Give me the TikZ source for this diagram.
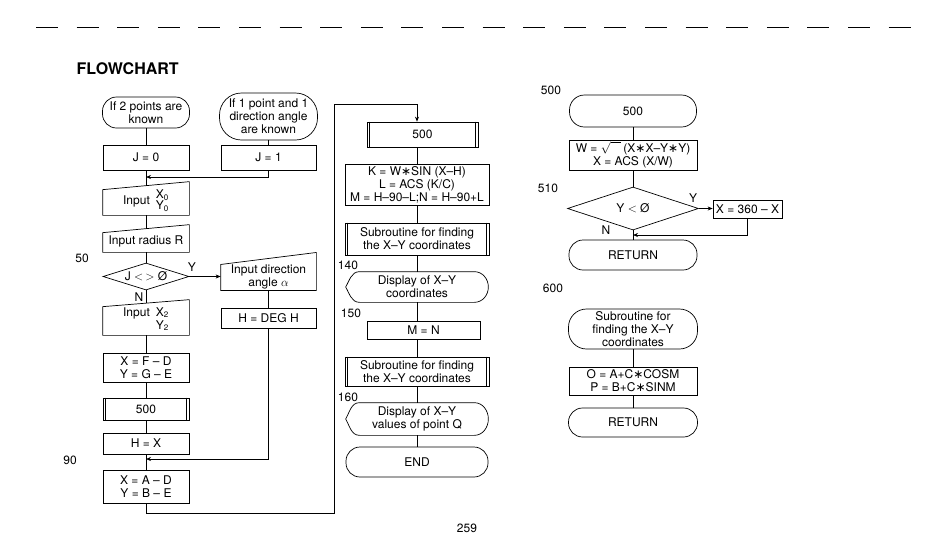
\documentclass[tikz,border=0pt]{standalone}
\usepackage{fontspec}
\setmainfont{TeX Gyre Heros}
\newfontfamily\symfont{DejaVu Sans}
\usetikzlibrary{shapes.geometric,arrows.meta}

\newcommand{\mulsign}{{\symfont ∗}}
% slanted top: #2 and #3 shift the left and right top corners
\newcommand{\manualshape}[3]{%
    \draw (#1.south west) -- ([yshift=#2]#1.north west)
        -- ([yshift=#3]#1.north east) -- (#1.south east) -- cycle;}
\newcommand{\displayshape}[1]{%
    \draw ([xshift=14pt]#1.north west) to[out=180,in=60] (#1.west)
        to[out=-60,in=180] ([xshift=14pt]#1.south west)
        -- ([xshift=-14pt]#1.south east) to[out=0,in=-90] (#1.east)
        to[out=90,in=0] ([xshift=-14pt]#1.north east) -- cycle;}

\begin{document}
\begin{tikzpicture}[
    x=1pt, y=1pt,
    line width=0.7pt,
    font=\fontsize{12}{13}\selectfont,
    arr/.style={-{Stealth[length=5pt,width=4pt]}},
    box/.style={draw, rectangle, inner sep=1pt, align=center,
                minimum width=86pt, minimum height=25pt},
    term/.style={box, rounded corners=14pt},
    predef/.style={box, append after command={
        ([xshift=3pt]\tikzlastnode.north west) edge ([xshift=3pt]\tikzlastnode.south west)
        ([xshift=-3pt]\tikzlastnode.north east) edge ([xshift=-3pt]\tikzlastnode.south east)}},
    manual/.style={rectangle, inner sep=1pt, align=center, minimum width=86pt},
    dispnode/.style={rectangle, inner sep=1pt, align=center,
                     minimum width=142pt, minimum height=30pt},
    decision/.style={draw, diamond, inner sep=0pt},
    numlabel/.style={inner sep=0pt},
]
\useasboundingbox (0,0) rectangle (946,-542);

\foreach \i in {0,...,21}
    \draw[line width=0.9pt] (36+40.6*\i,-27) -- ++(22,0);

\node[font=\fontsize{16}{18}\selectfont\bfseries, anchor=west] (title) at (73,-69) {FLOWCHART};
\node (page) at (467,-528) {259};

\node[term, minimum width=87pt, minimum height=31pt] (start2) at (146,-112.5)
      {If 2 points are\\known};
\node[term, rounded corners=22pt, minimum width=98pt, minimum height=47pt] (start1)
      at (268.5,-116.5) {If 1 point and 1\\direction angle\\are known};
\node[box] (jzero) at (146,-157.5) {J = 0};
\node[box, minimum width=95pt] (jone) at (268.5,-157.5) {J = 1};
\coordinate (merge1) at (146,-177);
\node[manual, minimum height=27pt] (inxy0) at (146,-201.5)
      {Input\enspace\begin{tabular}{@{}l@{}}X\textsubscript{0}\\[-2pt]Y\textsubscript{0}\end{tabular}};
\node[manual, minimum height=22pt] (inrad) at (146,-241) {Input radius R};
\node[numlabel] (l50) at (82,-258) {50};
\node[decision, minimum width=86pt, minimum height=27pt, aspect=3.2] (jtest)
      at (146,-276.5) {J $<\,>$ Ø};
\node[numlabel] (jyes) at (192,-267) {Y};
\node[numlabel] (jno) at (139,-297) {N};
\node[manual, minimum width=95pt, minimum height=26pt] (indir) at (268.5,-277)
      {Input direction\\angle $\alpha$};
\node[manual, minimum height=30pt] (inxy2) at (146,-320)
      {Input\enspace\begin{tabular}[t]{@{}l@{}}X\textsubscript{2}\\Y\textsubscript{2}\end{tabular}};
\node[box, minimum width=95pt, minimum height=20pt] (hdeg) at (268.5,-318) {H = DEG H};
\node[box, minimum height=29pt] (calcfd) at (146,-367.5) {X = F -- D\\Y = G -- E};
\node[predef, minimum height=22pt] (subfive) at (146,-409) {500};
\node[box, minimum height=21pt] (hx) at (146,-443.5) {H = X};
\node[numlabel] (l90) at (70,-460) {90};
\coordinate (merge2) at (146,-459);
\node[box, minimum height=33pt] (calcad) at (146,-486.5) {X = A -- D\\Y = B -- E};
\coordinate (loopa) at (334,-513);
\coordinate (loopb) at (334,-104);

\manualshape{inxy0}{-2pt}{6pt}
\manualshape{inrad}{-3pt}{5pt}
\manualshape{indir}{-1pt}{11pt}
\manualshape{inxy2}{-2pt}{5pt}

\node[predef, minimum width=111pt, minimum height=25pt] (subfiveb) at (422.5,-134.5) {500};
\node[box, minimum width=144pt, minimum height=41pt] (kwsin) at (417,-184.5)
      {K = W\mulsign SIN (X--H)\\L = ACS (K/C)\\M = H--90--L;N = H--90+L};
\node[predef, minimum width=144pt, minimum height=32pt] (subxya) at (417,-239)
      {Subroutine for finding\\the X--Y coordinates};
\node[numlabel] (l140) at (348,-265) {140};
\node[dispnode] (dispa) at (417,-287) {Display of X--Y\\coordinates};
\node[numlabel] (l150) at (351,-313) {150};
\node[box, minimum width=113pt, minimum height=18pt] (mn) at (423.5,-330) {M = N};
\node[predef, minimum width=144pt, minimum height=29pt] (subxyb) at (417,-371.5)
      {Subroutine for finding\\the X--Y coordinates};
\node[numlabel] (l160) at (348,-397) {160};
\node[dispnode, minimum height=32pt] (dispb) at (417,-419) {Display of X--Y\\values of point Q};
\node[term, minimum width=142pt, minimum height=30pt] (stop) at (417,-462) {END};

\displayshape{dispa}
\displayshape{dispb}

\node[numlabel] (l500) at (551,-90) {500};
\node[term, rounded corners=15pt, minimum width=127pt, minimum height=32pt] (sfive)
      at (633,-111) {500};
\node[box, minimum width=128pt, minimum height=30pt] (wcalc) at (633,-155)
      {W = $\sqrt{\phantom{X}}$\,(X\mulsign X--Y\mulsign Y)\\X = ACS (X/W)};
\node[numlabel] (l510) at (548,-188) {510};
\node[decision, minimum width=131pt, minimum height=43pt, aspect=3] (ytest)
      at (633,-208.5) {Y $<$ Ø};
\node[numlabel] (yyes) at (693,-198) {Y};
\node[numlabel] (yno) at (606,-230) {N};
\node[box, minimum width=69pt, minimum height=18pt, inner sep=0pt] (xflip)
      at (747.5,-209) {X = 360 -- X};
\coordinate (merge3) at (633,-235);
\node[term, minimum width=128pt, minimum height=30pt] (reta) at (633,-255) {RETURN};
\node[numlabel] (l600) at (553,-288) {600};
\node[term, rounded corners=18pt, minimum width=129pt, minimum height=40pt] (ssix)
      at (633,-329) {Subroutine for\\finding the X--Y\\coordinates};
\node[box, minimum width=128pt, minimum height=28pt] (ocalc) at (633,-381)
      {O = A+C\mulsign COSM\\P = B+C\mulsign SINM};
\node[term, minimum width=129pt, minimum height=29pt] (retb) at (633,-422.5) {RETURN};

\draw (start2) -- (jzero);
\draw (start1) -- (jone);
\draw (jzero) -- ([yshift=2pt]inxy0.north);
\draw[arr] (jone.south) |- (merge1);
\draw (inxy0.south) -- ([yshift=1pt]inrad.north);
\draw (inrad.south) -- (jtest.north);
\draw[arr] (jtest.east) -- (jtest.east -| indir.west);
\draw (jtest.south) -- ([yshift=1.5pt]inxy2.north);
\draw (indir.south) -- (hdeg.north);
\draw (inxy2.south) -- (calcfd.north);
\draw (calcfd) -- (subfive);
\draw (subfive) -- (hx);
\draw (hx) -- (calcad);
\draw[arr] (hdeg.south) |- (merge2);
\draw[arr] (calcad.south) |- (loopa) -- (loopb) -| (subfiveb.north -| kwsin.north);

\draw (subfiveb.south -| kwsin.north) -- (kwsin.north);
\draw (kwsin) -- (subxya);
\draw (subxya) -- (dispa);
\draw (dispa.south) -- (dispa.south |- mn.north);
\draw (mn.south -| subxyb.north) -- (subxyb.north);
\draw (subxyb) -- (dispb);
\draw (dispb) -- (stop);

\draw (sfive) -- (wcalc);
\draw (wcalc) -- (ytest);
\draw[arr] (ytest.east) -- (ytest.east -| xflip.west);
\draw[arr] (xflip.south) |- (merge3);
\draw (ytest.south) -- (reta.north);
\draw (ssix) -- (ocalc);
\draw (ocalc) -- (retb);

\end{tikzpicture}
\end{document}
